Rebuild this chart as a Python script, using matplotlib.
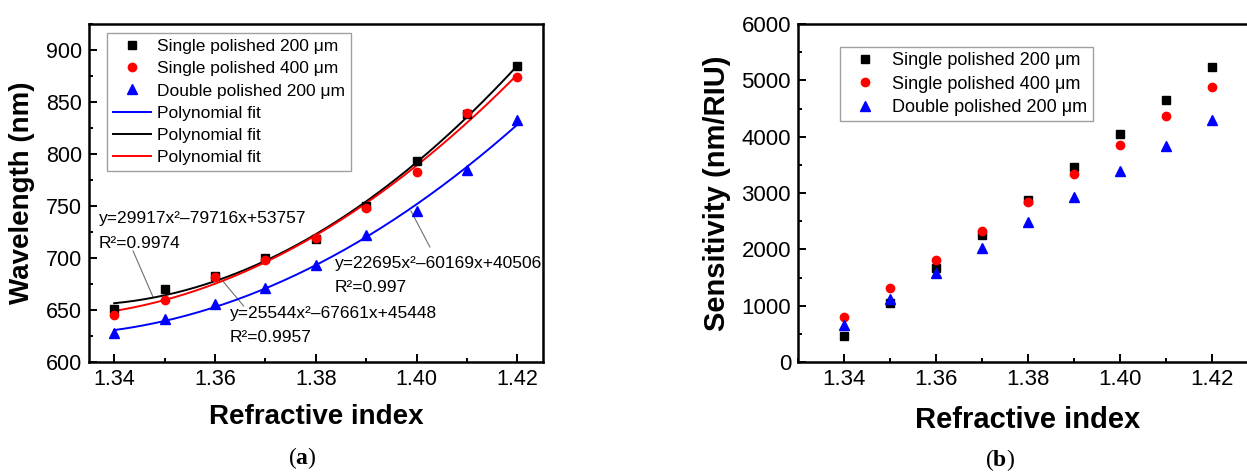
import numpy as np
import matplotlib
matplotlib.use("Agg")
import matplotlib.pyplot as plt
from matplotlib.ticker import MultipleLocator, FormatStrFormatter

# ---------------- data ----------------
ri = [1.34, 1.35, 1.36, 1.37, 1.38, 1.39, 1.40, 1.41, 1.42]

wl_single200 = [651, 670, 683, 700, 718, 750, 793, 838, 885]
wl_single400 = [645, 660, 682, 698, 719, 748, 783, 839, 874]
wl_double200 = [628, 641, 656, 671, 693, 722, 745, 785, 833]

# polynomial fit coefficients as printed on the chart (a, b, c for a*x^2 + b*x + c)
fit_single200 = [29917, -79716, 53757]
fit_single400 = [25544, -67661, 45448]
fit_double200 = [22695, -60169, 40506]

sens_single200 = [462, 1055, 1670, 2251, 2873, 3454, 4046, 4650, 5243]
sens_single400 = [800, 1315, 1819, 2334, 2838, 3341, 3857, 4366, 4876]
sens_double200 = [660, 1115, 1575, 2025, 2480, 2930, 3390, 3840, 4290]

labels = ["Single polished 200 \u03bcm", "Single polished 400 \u03bcm", "Double polished 200 \u03bcm"]
fit_label = "Polynomial fit"
eq_lines = [("y=29917x\u00b2\u201379716x+53757", "R\u00b2=0.9974"),
            ("y=22695x\u00b2\u201360169x+40506", "R\u00b2=0.997"),
            ("y=25544x\u00b2\u201367661x+45448", "R\u00b2=0.9957")]

# ---------------- style ----------------
plt.rcParams['font.family'] = ['Liberation Sans', 'DejaVu Sans']
plt.rcParams['mathtext.fontset'] = 'custom'
plt.rcParams['mathtext.rm'] = 'Liberation Serif'
plt.rcParams['mathtext.bf'] = 'Liberation Serif:bold'

W, H = 1247, 472
fig = plt.figure(figsize=(W / 100, H / 100), dpi=100)

def px_axes(l, r, t, b):
    return [l / W, 1 - b / H, (r - l) / W, (b - t) / H]

axA = fig.add_axes(px_axes(89, 543, 24, 362))
axB = fig.add_axes(px_axes(798, 1258, 24, 362))

def style_axis(ax, fs):
    for s in ax.spines.values():
        s.set_linewidth(1.8)
    ax.tick_params(which='both', direction='in', top=False, right=False, width=1.4)
    ax.tick_params(which='major', length=6, labelsize=fs, pad=5)
    ax.tick_params(which='minor', length=3)

# ---------------- panel (a) ----------------
x = np.array(ri)
xf = np.linspace(1.34, 1.42, 200)
ms = 6
h1, = axA.plot(x, wl_single200, 's', color='black', ms=ms, ls='none', zorder=3, label=labels[0])
h2, = axA.plot(x, wl_single400, 'o', color='#ff0000', ms=ms, ls='none', zorder=3, label=labels[1])
h3, = axA.plot(x, wl_double200, '^', color='#0000ff', ms=ms + 0.5, ls='none', zorder=3, label=labels[2])
l1, = axA.plot(xf, np.polyval(fit_double200, xf), color='#0000ff', lw=1.4, zorder=2, label=fit_label)
l2, = axA.plot(xf, np.polyval(fit_single200, xf), color='black', lw=1.4, zorder=2, label=fit_label)
l3, = axA.plot(xf, np.polyval(fit_single400, xf), color='#ff0000', lw=1.4, zorder=2, label=fit_label)

axA.set_xlim(1.335, 1.4251)
axA.set_ylim(600, 925)
axA.xaxis.set_major_locator(MultipleLocator(0.02))
axA.xaxis.set_minor_locator(MultipleLocator(0.01))
axA.xaxis.set_major_formatter(FormatStrFormatter('%.2f'))
axA.yaxis.set_major_locator(MultipleLocator(50))
axA.yaxis.set_minor_locator(MultipleLocator(25))
style_axis(axA, 15.5)
axA.set_xlabel("Refractive index", fontsize=20, fontweight='bold')
axA.set_ylabel("Wavelength (nm)", fontsize=20, fontweight='bold')
axA.yaxis.set_label_coords(-0.118, 0.5)
axA.xaxis.set_label_coords(0.5, -0.125)

legA = axA.legend(handles=[h1, h2, h3, l1, l2, l3], loc='upper left',
                  bbox_to_anchor=(0.0396, 0.973), fontsize=12.5, frameon=True,
                  fancybox=False, edgecolor='#a0a0a0', framealpha=1,
                  borderaxespad=0, borderpad=0.35, labelspacing=0.4,
                  handlelength=2.2, handletextpad=0.32, numpoints=1)
legA.get_frame().set_linewidth(1.0)

ann_kw = dict(fontsize=12.5, ha='left', va='center')
# pixel-y helper -> data y for panel (a)
def ydat(py):
    return 600 + (362 - py) / 1.04

# annotation 1 (single 200)
axA.text(1.33698, ydat(218), eq_lines[0][0], **ann_kw)
axA.text(1.33698, ydat(243), eq_lines[0][1], **ann_kw)
axA.plot([1.34375, 1.34771], [ydat(251), ydat(297)], color='#707070', lw=0.8, zorder=1)
# annotation 2 (double 200)
axA.text(1.38379, ydat(264), eq_lines[1][0], **ann_kw)
axA.text(1.38379, ydat(287), eq_lines[1][1], **ann_kw)
axA.plot([1.3989, 1.40265], [ydat(211), ydat(247)], color='#707070', lw=0.8, zorder=1)
# annotation 3 (single 400)
axA.text(1.36287, ydat(314), eq_lines[2][0], **ann_kw)
axA.text(1.36287, ydat(337), eq_lines[2][1], **ann_kw)
axA.plot([1.36154, 1.36569], [ydat(281), ydat(306)], color='#707070', lw=0.8, zorder=1)

# ---------------- panel (b) ----------------
b1, = axB.plot(x, sens_single200, 's', color='black', ms=ms, ls='none', label=labels[0])
b2, = axB.plot(x, sens_single400, 'o', color='#ff0000', ms=ms, ls='none', label=labels[1])
b3, = axB.plot(x, sens_double200, '^', color='#0000ff', ms=ms + 0.5, ls='none', label=labels[2])
axB.set_xlim(1.33, 1.43)
axB.set_ylim(0, 6000)
axB.xaxis.set_major_locator(MultipleLocator(0.02))
axB.xaxis.set_minor_locator(MultipleLocator(0.01))
axB.xaxis.set_major_formatter(FormatStrFormatter('%.2f'))
axB.yaxis.set_major_locator(MultipleLocator(1000))
axB.yaxis.set_minor_locator(MultipleLocator(500))
style_axis(axB, 16)
axB.set_xlabel("Refractive index", fontsize=21, fontweight='bold')
axB.set_ylabel("Sensitivity (nm/RIU)", fontsize=21, fontweight='bold')
axB.yaxis.set_label_coords(-0.145, 0.5)
axB.xaxis.set_label_coords(0.5, -0.13)

legB = axB.legend(handles=[b1, b2, b3], loc='upper left',
                  bbox_to_anchor=(0.0913, 0.932), fontsize=13, frameon=True,
                  fancybox=False, edgecolor='#a0a0a0', framealpha=1,
                  borderaxespad=0, borderpad=0.3, labelspacing=0.35,
                  handlelength=2.2, handletextpad=0.4, numpoints=1)
legB.get_frame().set_linewidth(1.0)

# ---------------- captions ----------------
fig.text(302 / W, 1 - 458 / H, r"($\mathbf{a}$)", fontsize=17, ha='center', va='center',
         family='Liberation Serif')
fig.text(1000 / W, 1 - 460 / H, r"($\mathbf{b}$)", fontsize=17, ha='center', va='center',
         family='Liberation Serif')

fig.savefig("out.png", dpi=100)
